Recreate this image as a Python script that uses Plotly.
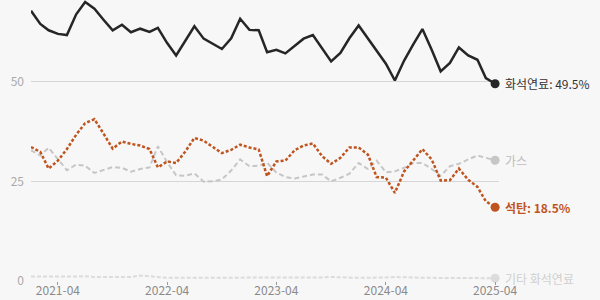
import pandas as pd
import plotly.graph_objects as go

months = pd.date_range("2021-01-01", "2025-04-01", freq="MS")

fossil = [67.8, 64.5, 62.9, 62.0, 61.7, 66.9, 70.0, 68.3, 65.5, 62.9,
          64.3, 62.4, 63.3, 62.5, 63.5, 59.7, 56.6, 60.2, 63.9, 60.8,
          59.5, 58.2, 60.9, 65.8, 63.0, 62.9, 57.4, 58.0, 57.1, 59.1,
          60.8, 61.7, 58.4, 55.1, 57.2, 60.9, 64.1, 60.8, 57.6, 54.5,
          50.3, 55.3, 59.3, 63.2, 58.0, 52.6, 54.7, 58.6, 56.6, 55.5,
          50.9, 49.5]
coal = [33.6, 32.4, 28.2, 30.2, 33.1, 36.7, 39.6, 40.6, 36.9, 33.2,
        35.0, 34.4, 34.0, 33.1, 28.5, 30.0, 29.6, 32.5, 35.9, 35.2,
        33.6, 32.1, 32.9, 34.2, 33.5, 33.0, 26.3, 30.0, 30.2, 32.8,
        34.0, 34.5, 31.3, 29.4, 30.9, 33.5, 33.5, 31.7, 26.1, 25.9,
        22.1, 27.5, 30.2, 33.1, 30.5, 25.2, 25.3, 28.2, 25.4, 23.6,
        20.0, 18.5]
gas = [32.8, 31.5, 33.4, 30.5, 27.8, 29.2, 28.9, 27.1, 27.9, 28.6,
       28.4, 27.4, 28.1, 28.5, 33.8, 29.8, 26.5, 26.4, 27.0, 24.9,
       25.0, 25.5, 27.7, 30.5, 28.8, 28.9, 29.7, 27.2, 26.1, 25.7,
       26.2, 26.7, 26.7, 25.0, 25.9, 26.9, 29.6, 28.1, 30.2, 27.3,
       27.5, 28.4, 29.6, 29.6, 28.1, 26.4, 28.8, 29.4, 30.5, 31.5,
       30.9, 30.3]
other = [1.1, 1.1, 1.0, 1.0, 1.0, 1.1, 1.2, 1.0, 1.0, 1.0,
         1.0, 1.0, 1.4, 1.2, 0.9, 0.8, 0.8, 0.8, 0.8, 0.8,
         0.8, 0.8, 0.8, 0.8, 0.9, 0.9, 0.9, 0.8, 0.8, 0.8,
         0.8, 0.9, 0.9, 1.0, 0.9, 0.8, 0.8, 0.8, 0.8, 0.9,
         1.0, 1.0, 0.9, 0.8, 0.8, 0.8, 0.8, 0.8, 0.8, 0.8,
         0.8, 0.7]

tick_vals = ["2021-04-01", "2022-04-01", "2023-04-01", "2024-04-01", "2025-04-01"]
tick_text = ["2021-04", "2022-04", "2023-04", "2024-04", "2025-04"]

series = [
    ("기타 화석연료", other, "#dcdcdc", 2, "4px,2px", "기타 화석연료", "#cfcfcf", False),
    ("가스", gas, "#c6c6c6", 2, "5px,3px", "가스", "#bdbdbd", False),
    ("석탄", coal, "#c0541e", 2.5, "3px,2px", "석탄: 18.5%", "#c0541e", True),
    ("화석연료", fossil, "#262626", 2.5, "solid", "화석연료: 49.5%", "#333333", False),
]

FONT = "Noto Sans CJK KR"
fig = go.Figure()
for name, vals, color, w, dash, label, lcolor, bold in series:
    fig.add_trace(go.Scatter(x=months, y=vals, mode="lines", name=name,
                             line=dict(color=color, width=w, dash=dash),
                             showlegend=False, hoverinfo="skip"))
    fig.add_trace(go.Scatter(x=[months[-1]], y=[vals[-1]], mode="markers",
                             marker=dict(color=color, size=9),
                             showlegend=False, hoverinfo="skip", cliponaxis=False))
    fig.add_annotation(x=months[-1], y=vals[-1], xref="x", yref="y",
                       text=(f"<b>{label}</b>" if bold else label),
                       showarrow=False, xanchor="left", yanchor="middle",
                       xshift=8, font=dict(family=FONT, size=12, color=lcolor))

fig.update_layout(
    width=600, height=300,
    margin=dict(l=31, r=101, t=0, b=19, autoexpand=False),
    paper_bgcolor="#f7f7f7", plot_bgcolor="#f7f7f7",
    font=dict(family=FONT, size=12, color="#999999"),
)
fig.update_xaxes(
    range=["2021-01-01", "2025-04-14"], tickvals=tick_vals, ticktext=tick_text,
    showgrid=False, zeroline=False, showline=False, automargin=False,
    ticks="outside", ticklen=3, tickcolor="#999999", tickwidth=1,
    ticklabelstandoff=-4,
    tickfont=dict(family=FONT, size=12, color="#8a8a8a"),
)
fig.update_yaxes(
    range=[0, 70.5], tickvals=[0, 25, 50], ticktext=["0", "25", "50"],
    showgrid=True, gridcolor="#d6d6d6", gridwidth=1.2, zeroline=False,
    showline=False, ticks="", ticklabelstandoff=6, automargin=False,
    tickfont=dict(family=FONT, size=12, color="#aaaaaa"),
)
fig.write_html("out.html")
